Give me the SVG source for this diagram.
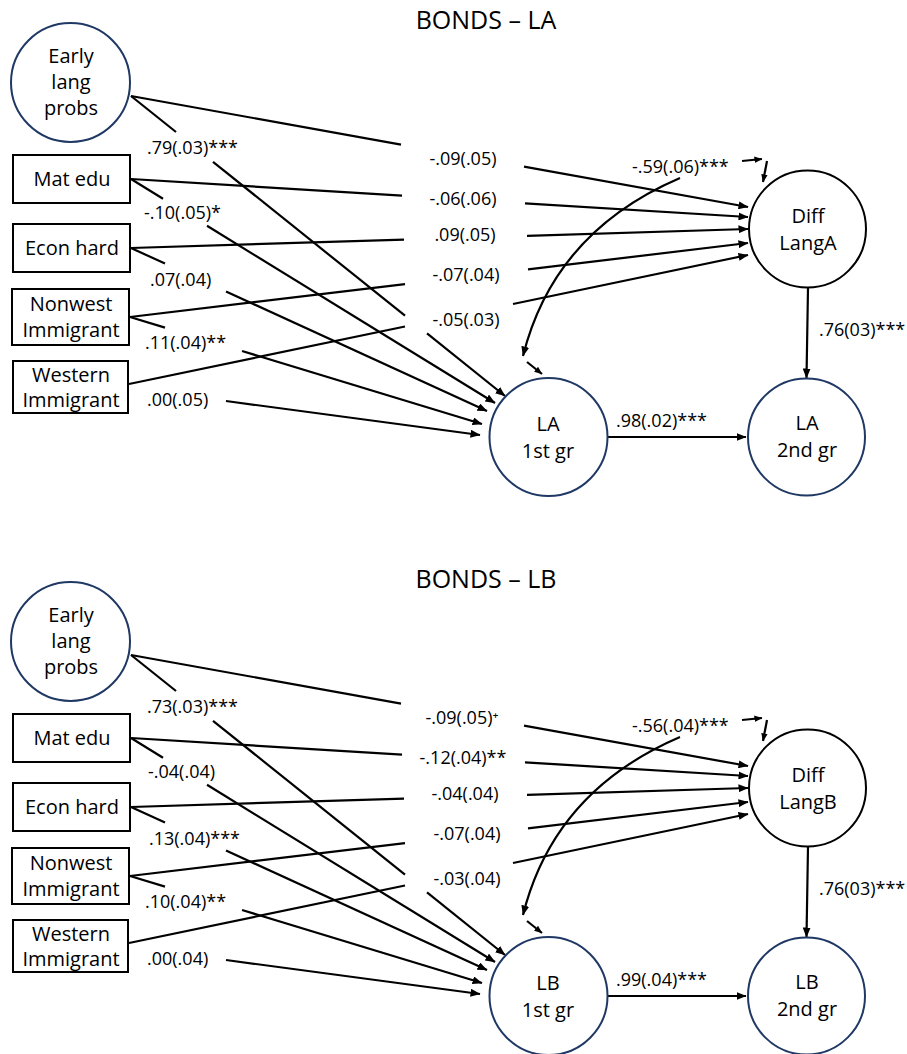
<svg xmlns="http://www.w3.org/2000/svg" width="907" height="1054" viewBox="0 0 907 1054">
<style>
.bg{fill:#fff}
.lat{fill:#fff;stroke:#1F3864;stroke-width:2}
.dif{fill:#fff;stroke:#000;stroke-width:2}
.box{fill:#fff;stroke:#000;stroke-width:2}
.nt{font-family:"Open Sans","Liberation Sans",sans-serif;font-size:20px;fill:#000;text-anchor:middle}
.lb{font-family:"Open Sans","Liberation Sans",sans-serif;font-size:18px;fill:#000}
.mid{text-anchor:middle}
.title{font-family:"Open Sans","Liberation Sans",sans-serif;font-size:25px;fill:#000;text-anchor:middle}
.e{fill:none;stroke:#000;stroke-width:2.2}
.a{marker-end:url(#ah)}
.s{marker-end:url(#sh)}
</style>
<defs>
<marker id="ah" viewBox="0 0 10 8" refX="9.5" refY="4" markerWidth="10" markerHeight="8" orient="auto" markerUnits="userSpaceOnUse"><path d="M0,0 L10,4 L0,8 z" fill="#000"/></marker>
<marker id="sh" viewBox="0 0 10 8" refX="9.5" refY="4" markerWidth="8" markerHeight="7" orient="auto" markerUnits="userSpaceOnUse"><path d="M0,0 L10,4 L0,8 z" fill="#000"/></marker>
</defs>
<rect class="bg" x="0" y="0" width="907" height="1054"/>

<!-- ===== Panel A ===== -->
<g id="panelA">
<text class="title" x="486" y="29">BONDS – LA</text>
<g id="connectorsA">
<path class="e" d="M131,96 L401,144.6"/>
<path class="e a" d="M524,166.7 L748,207"/>
<path class="e" d="M131,179 L402,195.7"/>
<path class="e a" d="M525,203.3 L748,217"/>
<path class="e" d="M131,248 L404,239.6"/>
<path class="e a" d="M527,235.8 L748,229"/>
<path class="e" d="M130,317 L405,284.1"/>
<path class="e a" d="M528,269.4 L748,243"/>
<path class="e" d="M129,384 L405,326.5"/>
<path class="e a" d="M513,304 L748,255"/>
<path class="e" d="M131,96 L176,132"/>
<path class="e" d="M213,161.8 L405,315.7"/>
<path class="e a" d="M427,333.4 L505,396"/>
<path class="e" d="M131,179 L163,198.7"/>
<path class="e a" d="M207,225.8 L495,403"/>
<path class="e" d="M131,248 L165,263.6"/>
<path class="e a" d="M226,291.5 L487,411"/>
<path class="e" d="M130,317 L165,327.6"/>
<path class="e a" d="M242,351 L482,424"/>
<path class="e a" d="M226,401 L480,435"/>
<path class="e a" d="M608,437 L746,437"/>
<path class="e a" d="M808,288 L806.5,378"/>
<path class="e a" d="M680,178 Q554,232 523,356"/>
<path class="e s" d="M742,161 L762,159"/>
<path class="e s" d="M767,161 L763,182"/>
<path class="e s" d="M527,362 L542,374"/>
<text class="lb mid" x="463" y="165">-.09(.05)</text>
<text class="lb mid" x="463" y="205">-.06(.06)</text>
<text class="lb mid" x="465" y="241">.09(.05)</text>
<text class="lb mid" x="466" y="281">-.07(.04)</text>
<text class="lb mid" x="466" y="326">-.05(.03)</text>
<text class="lb" x="147" y="154">.79(.03)***</text>
<text class="lb" x="144" y="219">-.10(.05)*</text>
<text class="lb" x="150" y="286">.07(.04)</text>
<text class="lb" x="145" y="349">.11(.04)**</text>
<text class="lb" x="147" y="406">.00(.05)</text>
<text class="lb" x="632" y="173">-.59(.06)***</text>
<text class="lb" x="616" y="427">.98(.02)***</text>
<text class="lb" x="819" y="336">.76(03)***</text>
</g>
<g id="A_early"><circle class="lat" cx="70.5" cy="82.5" r="59.5"/><text class="nt" x="71" y="63">Early</text><text class="nt" x="71" y="89">lang</text><text class="nt" x="71" y="115">probs</text></g>
<g id="A_matedu"><rect class="box" x="13" y="155" width="117" height="48"/><text class="nt" x="72" y="186">Mat edu</text></g>
<g id="A_econ"><rect class="box" x="13" y="224" width="117" height="48"/><text class="nt" x="72" y="255">Econ hard</text></g>
<g id="A_nonwest"><rect class="box" x="12" y="289" width="117" height="56"/><text class="nt" x="71" y="311">Nonwest</text><text class="nt" x="71" y="337">Immigrant</text></g>
<g id="A_western"><rect class="box" x="13" y="361" width="115" height="52"/><text class="nt" x="71" y="382">Western</text><text class="nt" x="71" y="407">Immigrant</text></g>
<g id="A_diff"><circle class="dif" cx="807.5" cy="229" r="58.5"/><text class="nt" x="808" y="223">Diff</text><text class="nt" x="808" y="250">LangA</text></g>
<g id="A_la1"><circle class="lat" cx="548.5" cy="437" r="59"/><text class="nt" x="548" y="431">LA</text><text class="nt" x="548" y="458">1st gr</text></g>
<g id="A_la2"><circle class="lat" cx="806.5" cy="437" r="58.5"/><text class="nt" x="807" y="430">LA</text><text class="nt" x="807" y="457">2nd gr</text></g>
</g>

<!-- ===== Panel B ===== -->
<g id="panelB" transform="translate(0,559)">
<text class="title" x="486" y="29">BONDS – LB</text>
<g id="connectorsB">
<path class="e" d="M131,96 L401,144.6"/>
<path class="e a" d="M524,166.7 L748,207"/>
<path class="e" d="M131,179 L402,195.7"/>
<path class="e a" d="M525,203.3 L748,217"/>
<path class="e" d="M131,248 L404,239.6"/>
<path class="e a" d="M527,235.8 L748,229"/>
<path class="e" d="M130,317 L405,284.1"/>
<path class="e a" d="M528,269.4 L748,243"/>
<path class="e" d="M129,384 L405,326.5"/>
<path class="e a" d="M513,304 L748,255"/>
<path class="e" d="M131,96 L176,132"/>
<path class="e" d="M213,161.8 L405,315.7"/>
<path class="e a" d="M427,333.4 L505,396"/>
<path class="e" d="M131,179 L163,198.7"/>
<path class="e a" d="M207,225.8 L495,403"/>
<path class="e" d="M131,248 L165,263.6"/>
<path class="e a" d="M226,291.5 L487,411"/>
<path class="e" d="M130,317 L165,327.6"/>
<path class="e a" d="M242,351 L482,424"/>
<path class="e a" d="M226,401 L480,435"/>
<path class="e a" d="M608,437 L746,437"/>
<path class="e a" d="M808,288 L806.5,378"/>
<path class="e a" d="M680,178 Q554,232 523,356"/>
<path class="e s" d="M742,161 L762,159"/>
<path class="e s" d="M767,161 L763,182"/>
<path class="e s" d="M527,362 L542,374"/>
<text class="lb mid" x="462" y="165">-.09(.05)⁺</text>
<text class="lb mid" x="463" y="205">-.12(.04)**</text>
<text class="lb mid" x="465" y="241">-.04(.04)</text>
<text class="lb mid" x="467" y="281">-.07(.04)</text>
<text class="lb mid" x="467" y="326">-.03(.04)</text>
<text class="lb" x="147" y="154">.73(.03)***</text>
<text class="lb" x="148" y="219">-.04(.04)</text>
<text class="lb" x="149" y="286">.13(.04)***</text>
<text class="lb" x="145" y="349">.10(.04)**</text>
<text class="lb" x="147" y="406">.00(.04)</text>
<text class="lb" x="632" y="173">-.56(.04)***</text>
<text class="lb" x="616" y="427">.99(.04)***</text>
<text class="lb" x="819" y="336">.76(03)***</text>
</g>
<g id="B_early"><circle class="lat" cx="70.5" cy="82.5" r="59.5"/><text class="nt" x="71" y="63">Early</text><text class="nt" x="71" y="89">lang</text><text class="nt" x="71" y="115">probs</text></g>
<g id="B_matedu"><rect class="box" x="13" y="155" width="117" height="48"/><text class="nt" x="72" y="186">Mat edu</text></g>
<g id="B_econ"><rect class="box" x="13" y="224" width="117" height="48"/><text class="nt" x="72" y="255">Econ hard</text></g>
<g id="B_nonwest"><rect class="box" x="12" y="289" width="117" height="56"/><text class="nt" x="71" y="311">Nonwest</text><text class="nt" x="71" y="337">Immigrant</text></g>
<g id="B_western"><rect class="box" x="13" y="361" width="115" height="52"/><text class="nt" x="71" y="382">Western</text><text class="nt" x="71" y="407">Immigrant</text></g>
<g id="B_diff"><circle class="dif" cx="807.5" cy="229" r="58.5"/><text class="nt" x="808" y="223">Diff</text><text class="nt" x="808" y="250">LangB</text></g>
<g id="B_lb1"><circle class="lat" cx="548.5" cy="437" r="59"/><text class="nt" x="548" y="431">LB</text><text class="nt" x="548" y="458">1st gr</text></g>
<g id="B_lb2"><circle class="lat" cx="806.5" cy="437" r="58.5"/><text class="nt" x="807" y="430">LB</text><text class="nt" x="807" y="457">2nd gr</text></g>
</g>
</svg>
